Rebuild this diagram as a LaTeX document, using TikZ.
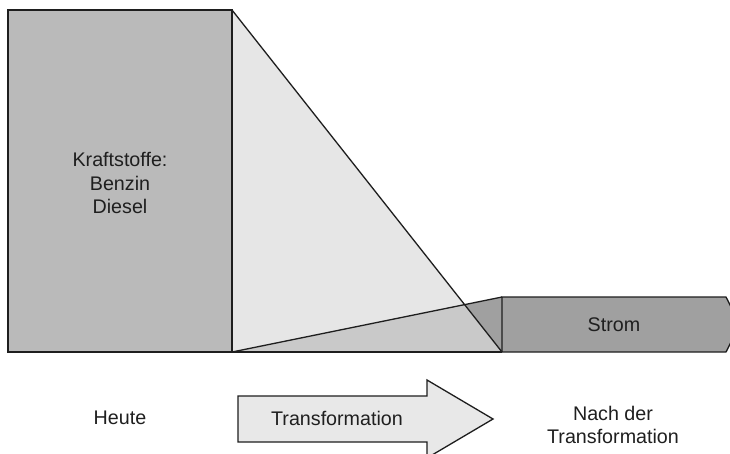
\documentclass[tikz,border=0pt]{standalone}
\usepackage{fontspec}
\setmainfont{Liberation Sans}
\definecolor{fuelgray}{HTML}{BABABA}
\definecolor{lightgray2}{HTML}{E6E6E6}
\definecolor{midgray}{HTML}{C9C9C9}
\definecolor{darkgray2}{HTML}{A0A0A0}
\definecolor{arrowfill}{HTML}{E8E8E8}
\definecolor{edge}{HTML}{1E1E1E}
\begin{document}
\begin{tikzpicture}[x=1pt,y=-1pt,
  outline/.style={draw=edge,line width=1.3pt,line join=miter},
  lbl/.style={font=\fontsize{19.7}{23.5}\selectfont,text=black!88,inner sep=0pt,align=center}]
\useasboundingbox (0,0) rectangle (730,453);
\fill[white] (0,0) rectangle (730,453);
% key points
\coordinate (rt) at (232,10);
\coordinate (rb) at (232,352);
\coordinate (sb) at (502,352);
\coordinate (st) at (502,297);
\coordinate (xi) at (intersection of rt--sb and rb--st);
% transition fills
\fill[lightgray2] (rt) -- (sb) -- (rb) -- cycle;
\fill[midgray] (rb) -- (xi) -- (sb) -- cycle;
\fill[darkgray2] (xi) -- (st) -- (sb) -- cycle;
% Strom box
\path[outline,fill=darkgray2] (st) -- (726,297) -- (740,324.5) -- (726,352) -- (sb) -- cycle;
\node[lbl] (strom) at (614,325) {Strom};
% transition lines
\draw[outline] (rt) -- (sb);
\draw[outline] (rb) -- (st);
\draw[outline] (rb) -- (sb);
% fuel block
\node[outline,fill=fuelgray,minimum width=224pt,minimum height=342pt,inner sep=0pt] (fuel) at (120,181) {};
\node[lbl] (fueltext) at (120,183.3) {Kraftstoffe:\\Benzin\\Diesel};
% labels
\node[lbl] (heute) at (120,418) {Heute};
\path[outline,fill=arrowfill] (238,396) -- (427,396) -- (427,380) -- (493,419) -- (427,458) -- (427,442) -- (238,442) -- cycle;
\node[lbl] (trans) at (337,418.5) {Transformation};
\node[lbl] (nach) at (613,425) {Nach der\\Transformation};
\end{tikzpicture}
\end{document}
